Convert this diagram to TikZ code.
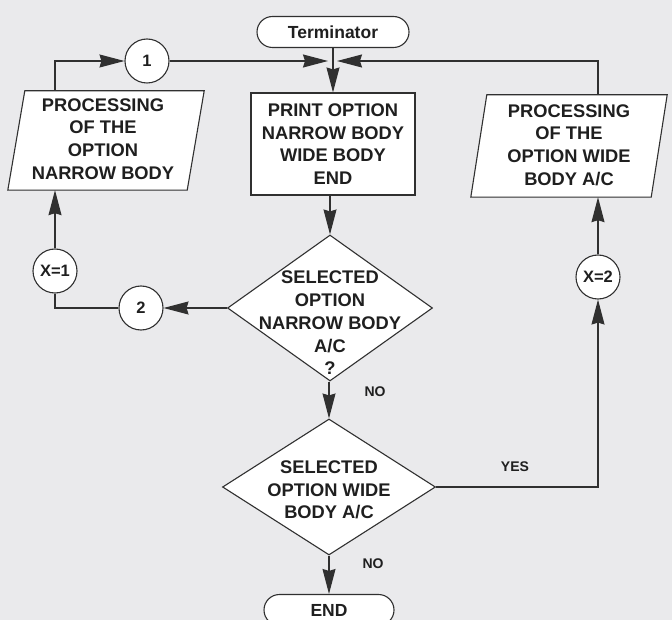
\documentclass[tikz,border=0pt]{standalone}
\usepackage{fontspec}
\setmainfont{Liberation Sans}
\usetikzlibrary{shapes.geometric, arrows.meta}
\definecolor{paper}{HTML}{EAEAEC}
\definecolor{ink}{HTML}{303030}

\begin{document}
\begin{tikzpicture}[x=1pt, y=-1pt,
  box/.style={draw=ink, fill=white, line width=1.1pt},
  txt/.style={align=center, inner sep=0pt, text=black!88,
    font=\bfseries\fontsize{18.3}{22.7}\selectfont},
  term/.style={box, rectangle, rounded corners=15.5pt, minimum width=152pt,
    minimum height=31pt, inner sep=0pt, text=black!88,
    font=\bfseries\fontsize{17.5}{20}\selectfont},
  conn/.style={box, circle, minimum size=44pt, inner sep=0pt, text=black!88,
    font=\bfseries\fontsize{16.5}{19}\selectfont},
  frame/.style={rectangle, inner sep=0pt},
  dec/.style={box, diamond, inner sep=0pt},
  flow/.style={draw=ink, line width=1.2pt,
    -{Stealth[length=25pt, width=13pt, inset=2pt]}},
  wire/.style={draw=ink, line width=1.2pt},
  lbl/.style={inner sep=0pt, text=black!88, font=\bfseries\fontsize{14}{16}\selectfont}
]
% page
\fill[paper] (0,0) rectangle (672,620);
\clip (0,0) rectangle (672,620);

% start / end terminals
\node[term] (start) at (333,32) {Terminator};
\node[term, minimum width=130pt] (stop) at (329,610) {END};

% print block
\node[box, rectangle, minimum width=164pt, minimum height=102pt, txt] (pb) at (333,144)
  {PRINT OPTION\\NARROW BODY\\WIDE BODY\\END};

% processing blocks (parallelograms drawn on their frames)
\node[frame, minimum width=196pt, minimum height=99pt] (lb) at (106,140.5) {};
\draw[box] (lb.south west) -- ([xshift=-17pt]lb.south east) -- (lb.north east)
  -- ([xshift=17pt]lb.north west) -- cycle;
\node[txt] (lbt) at (103,139) {PROCESSING\\OF THE\\OPTION\\NARROW BODY};
\node[frame, minimum width=196pt, minimum height=102pt] (rb) at (569,146) {};
\draw[box] (rb.south west) -- ([xshift=-16pt]rb.south east) -- (rb.north east)
  -- ([xshift=16pt]rb.north west) -- cycle;
\node[txt] (rbt) at (569,145) {PROCESSING\\OF THE\\OPTION WIDE\\BODY A/C};

% decisions
\node[dec, minimum width=205pt, minimum height=146pt] (d1) at (330,308) {};
\node[txt] (d1t) at (330,323) {SELECTED\\OPTION\\NARROW BODY\\A/C\\?};
\node[dec, minimum width=213pt, minimum height=136pt] (d2) at (329,487) {};
\node[txt] (d2t) at (329,490) {SELECTED\\OPTION WIDE\\BODY A/C};

% connectors
\node[conn] (c1) at (147,61) {1};
\node[conn] (c2) at (141,308) {2};
\node[conn] (x1) at (55,271) {X=1};
\node[conn] (x2) at (598,277) {X=2};

\coordinate (j) at (332.5,61);

% flow lines
\draw[flow] (start.south) -- (start.south |- pb.north);
\draw[flow] (x1.north |- lb.north) |- (c1.west);
\draw[flow] (c1.east) -- ([xshift=-4.5pt]j);
\draw[flow] (x2.north |- rb.north) |- ([xshift=4.5pt]j);
\draw[flow] (pb.south -| d1.north) -- (d1.north);
\draw[flow] (d1.west) -- (c2.east);
\draw[wire] (c2.west) -| (x1.south);
\draw[flow] (x1.north) -- (x1.north |- lb.south);
\draw[flow] (d1.south -| d2.north) -- (d2.north);
\draw[flow] (d2.east) -| (x2.south);
\draw[flow] (x2.north) -- (x2.north |- rb.south);
\draw[flow] (d2.south) -- (d2.south |- stop.north);

% branch labels
\node[lbl] (no1) at (375,392) {NO};
\node[lbl] (yes) at (515,467) {YES};
\node[lbl] (no2) at (373,564) {NO};
\end{tikzpicture}
\end{document}
